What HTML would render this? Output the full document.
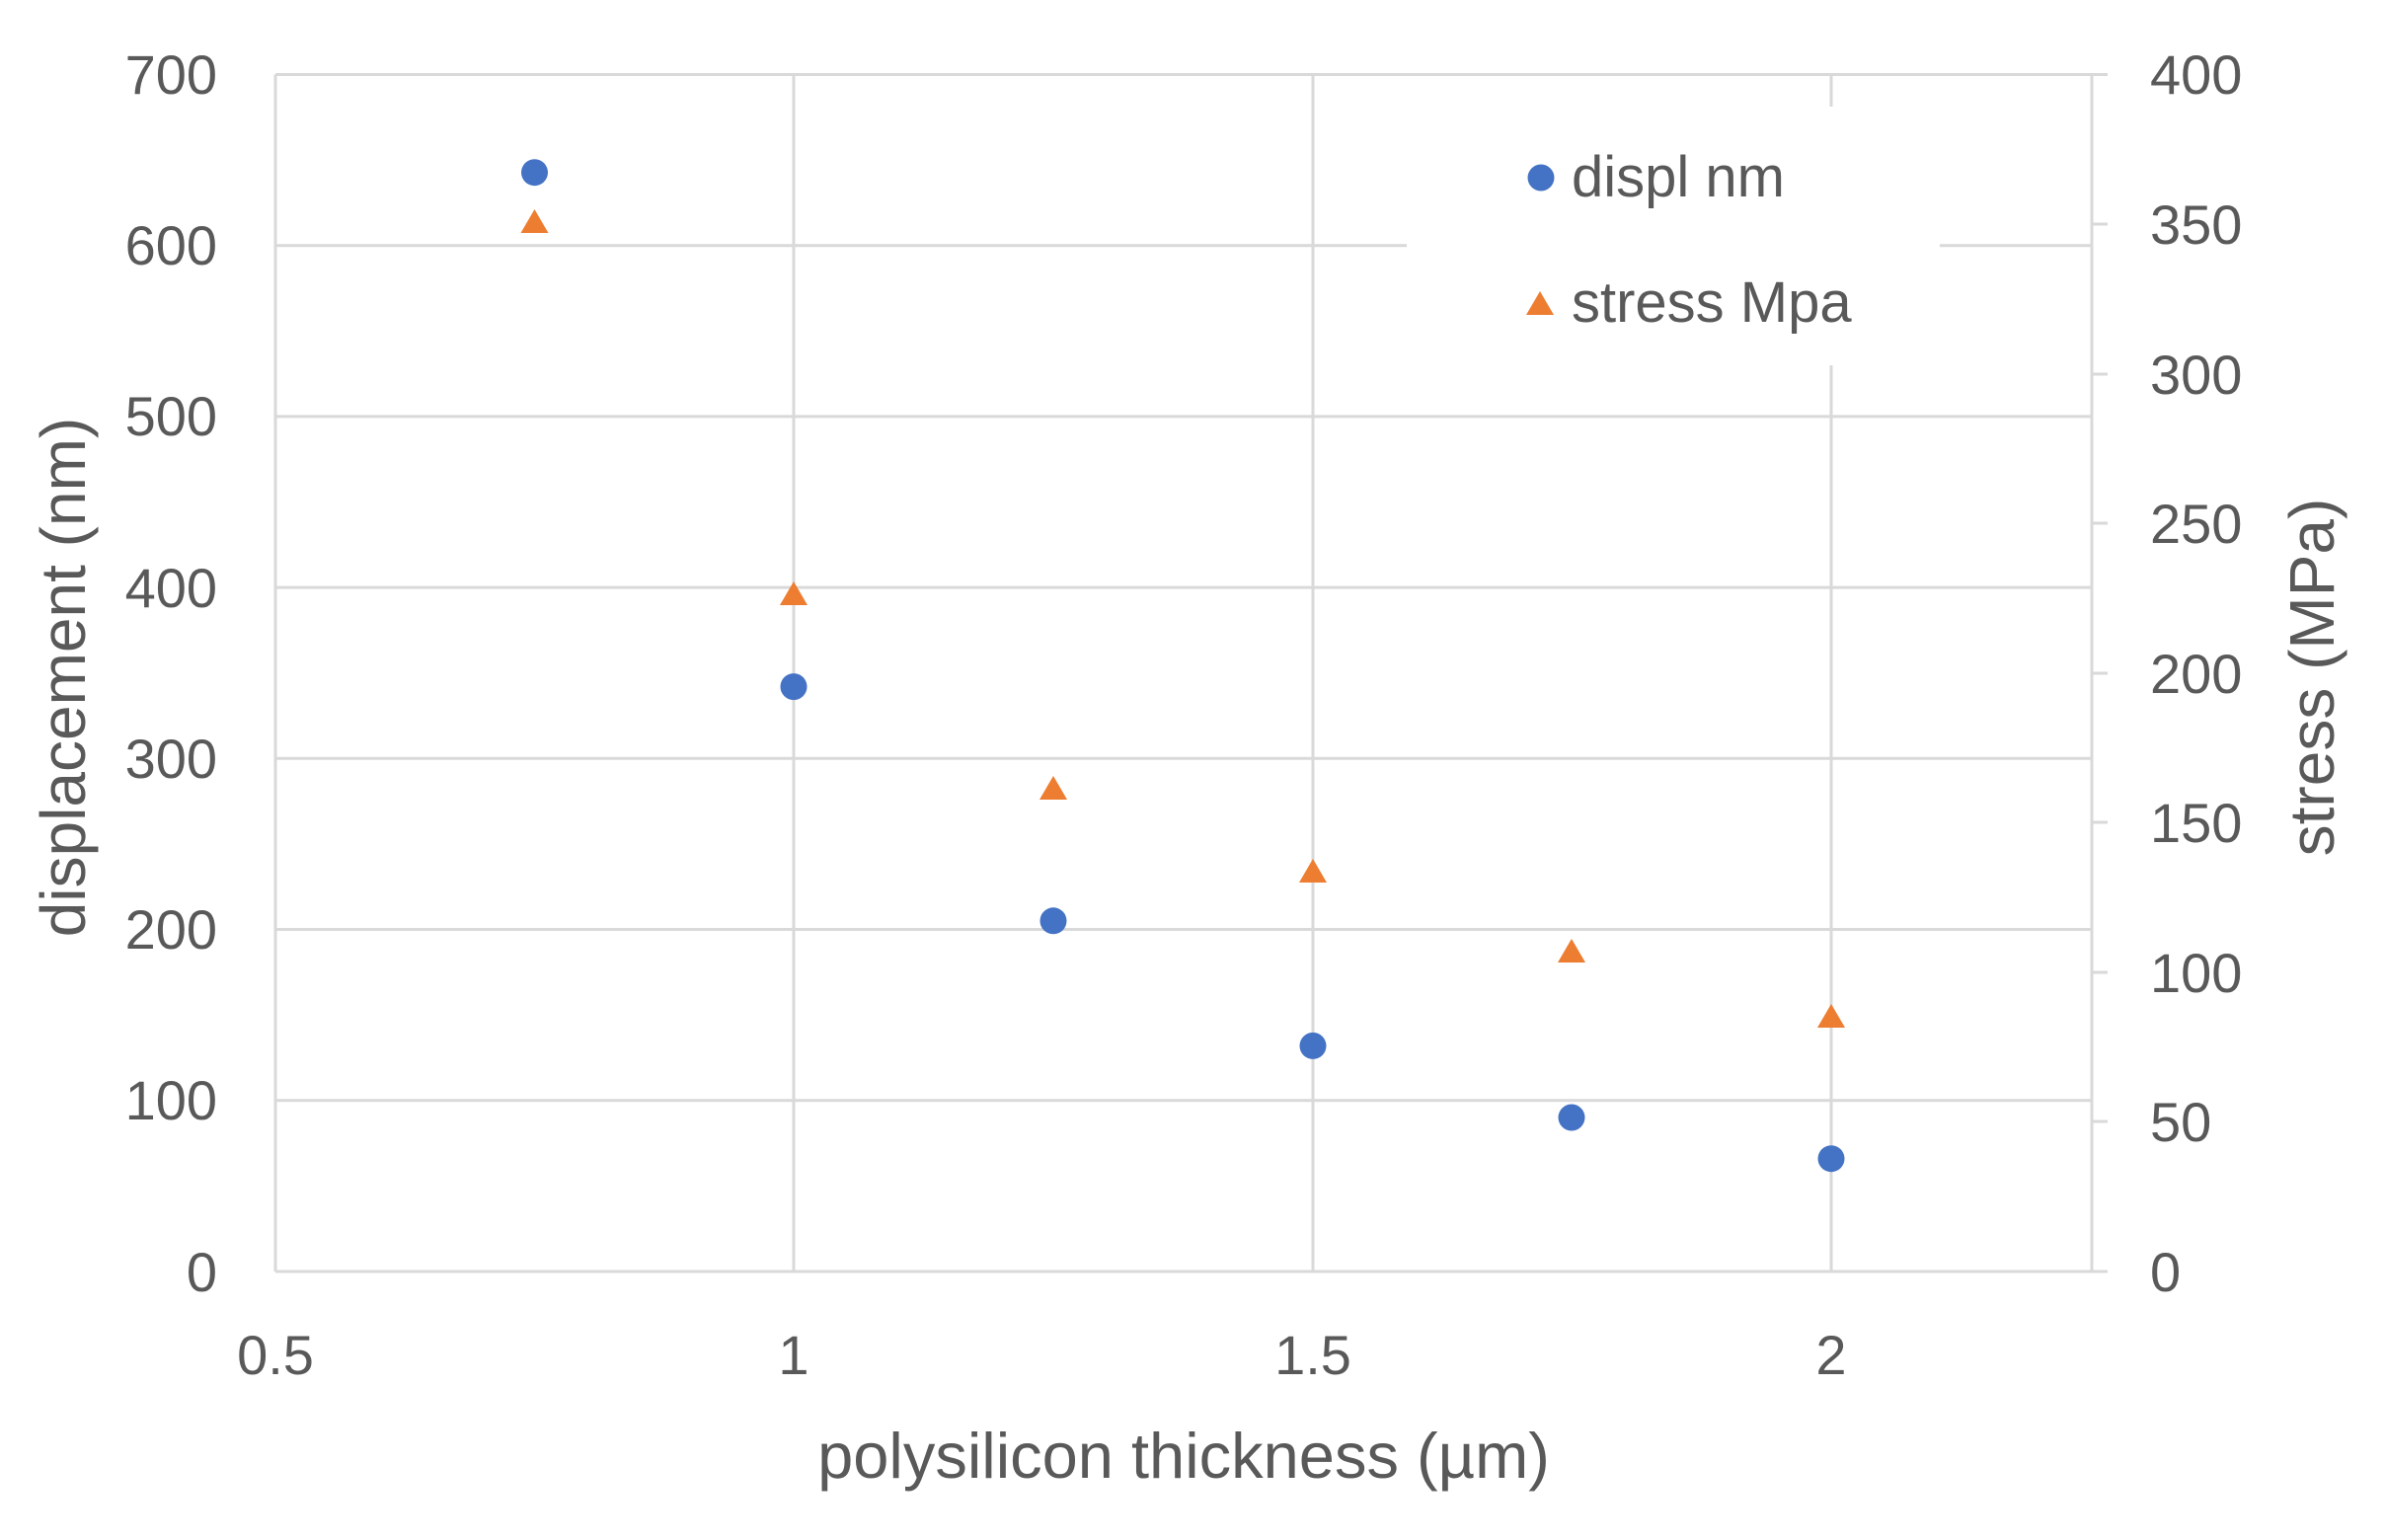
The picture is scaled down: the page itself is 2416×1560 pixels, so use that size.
<!DOCTYPE html>
<html><head><meta charset="utf-8"><style>body{margin:0;background:#fff}svg{display:block}</style></head><body>
<svg width="2416" height="1560" xmlns="http://www.w3.org/2000/svg" font-family="Liberation Sans, sans-serif" fill="#595959">
<rect width="2416" height="1560" fill="#fff"/>
<g stroke="#d9d9d9" stroke-width="3">
<line x1="279" y1="75.5" x2="2119" y2="75.5"/>
<line x1="279" y1="248.7" x2="2119" y2="248.7"/>
<line x1="279" y1="421.9" x2="2119" y2="421.9"/>
<line x1="279" y1="595.1" x2="2119" y2="595.1"/>
<line x1="279" y1="768.3" x2="2119" y2="768.3"/>
<line x1="279" y1="941.5" x2="2119" y2="941.5"/>
<line x1="279" y1="1114.7" x2="2119" y2="1114.7"/>
<line x1="804" y1="75.5" x2="804" y2="1288"/>
<line x1="1330" y1="75.5" x2="1330" y2="1288"/>
<line x1="1855" y1="75.5" x2="1855" y2="1288"/>
<line x1="279" y1="75.5" x2="279" y2="1288"/>
<line x1="2119" y1="75.5" x2="2119" y2="1288"/>
<line x1="279" y1="1288" x2="2135" y2="1288"/>
<line x1="2119" y1="75.5" x2="2135" y2="75.5"/>
<line x1="2119" y1="227" x2="2135" y2="227"/>
<line x1="2119" y1="379" x2="2135" y2="379"/>
<line x1="2119" y1="530" x2="2135" y2="530"/>
<line x1="2119" y1="682" x2="2135" y2="682"/>
<line x1="2119" y1="833" x2="2135" y2="833"/>
<line x1="2119" y1="985" x2="2135" y2="985"/>
<line x1="2119" y1="1136" x2="2135" y2="1136"/>
</g>
<rect x="1425" y="108" width="540" height="262" fill="#fff"/>
<g font-size="56" text-anchor="end">
<text x="220" y="95">700</text><text x="220" y="268">600</text><text x="220" y="441">500</text>
<text x="220" y="615">400</text><text x="220" y="788">300</text><text x="220" y="961">200</text>
<text x="220" y="1134">100</text><text x="220" y="1308">0</text>
</g>
<g font-size="56" text-anchor="start">
<text x="2178" y="95">400</text><text x="2178" y="247">350</text><text x="2178" y="399">300</text>
<text x="2178" y="550">250</text><text x="2178" y="702">200</text><text x="2178" y="853">150</text>
<text x="2178" y="1005">100</text><text x="2178" y="1156">50</text><text x="2178" y="1308">0</text>
</g>
<g font-size="56" text-anchor="middle">
<text x="279" y="1392">0.5</text><text x="804" y="1392">1</text><text x="1330" y="1392">1.5</text><text x="1855" y="1392">2</text>
</g>
<text x="1199" y="1497" font-size="65" text-anchor="middle">polysilicon thickness (µm)</text>
<text transform="translate(86,686) rotate(-90)" font-size="64" text-anchor="middle">displacement (nm)</text>
<text transform="translate(2364,686) rotate(-90)" font-size="64" text-anchor="middle">stress (MPa)</text>
<g fill="#4472c4">
<circle cx="541.5" cy="174.7" r="13.5"/><circle cx="804" cy="695.6" r="13.5"/><circle cx="1067" cy="932.8" r="13.5"/>
<circle cx="1330" cy="1059.4" r="13.5"/><circle cx="1592" cy="1132" r="13.5"/><circle cx="1855" cy="1173.7" r="13.5"/>
<circle cx="1561" cy="180" r="13.5"/>
</g>
<g fill="#ed7d31">
<path d="M541.5,212 l-14,24 h28z"/><path d="M804,589 l-14,24 h28z"/><path d="M1067,786 l-14,24 h28z"/>
<path d="M1330,870 l-14,24 h28z"/><path d="M1592,951 l-14,24 h28z"/><path d="M1855,1017 l-14,24 h28z"/>
<path d="M1560,295 l-14,24 h28z"/>
</g>
<text x="1592" y="199" font-size="58">displ nm</text>
<text x="1592" y="326" font-size="58">stress Mpa</text>
</svg>
</body></html>
